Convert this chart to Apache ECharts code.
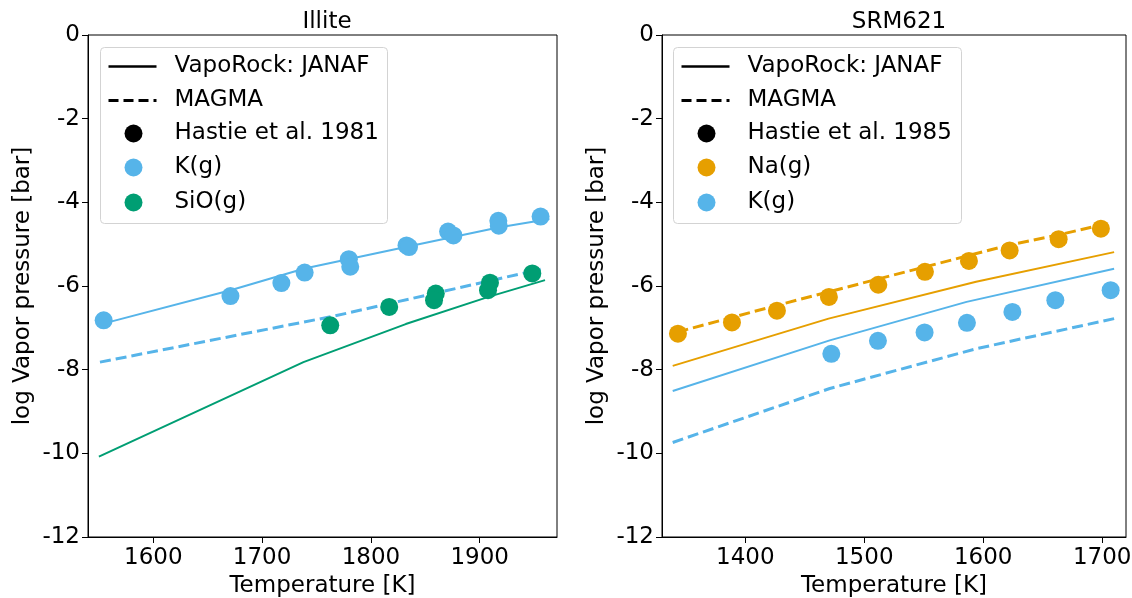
<!DOCTYPE html>
<html>
<head>
<meta charset="utf-8">
<script src="https://cdn.jsdelivr.net/npm/echarts@6/dist/echarts.min.js"></script>
<style>
  html, body { margin: 0; padding: 0; background: #fff; }
  #chart { width: 1132px; height: 598px; }
</style>
</head>
<body>
<div id="chart"></div>
<script>
// ---- Illite (left panel) ----
var illiteKObsT = [1554.4, 1670.9, 1717.7, 1739.1, 1779.7, 1781.0, 1832.7, 1835.0, 1870.9, 1875.8, 1917.1, 1917.5, 1955.9];
var illiteKObsP = [-6.82, -6.24, -5.93, -5.68, -5.36, -5.54, -5.03, -5.07, -4.70, -4.79, -4.44, -4.56, -4.34];
var illiteSiOObsT = [1762.6, 1816.8, 1859.6, 1858.0, 1909.4, 1907.6, 1948.3];
var illiteSiOObsP = [-6.94, -6.50, -6.18, -6.34, -5.92, -6.10, -5.70];
var illiteKJanafT = [1554, 1671, 1739, 1833, 1917, 1964];
var illiteKJanafP = [-6.90, -6.10, -5.58, -5.06, -4.60, -4.40];
var illiteKMagmaT = [1551, 1766, 1956];
var illiteKMagmaP = [-7.82, -6.72, -5.60];
var illiteSiOJanafT = [1550, 1738, 1832, 1908, 1960];
var illiteSiOJanafP = [-10.08, -7.82, -6.91, -6.26, -5.86];

// ---- SRM621 (right panel) ----
var srmNaObsT = [1343.4, 1388.8, 1426.6, 1470.3, 1511.8, 1551.0, 1588.0, 1622.2, 1663.4, 1698.9];
var srmNaObsP = [-7.14, -6.87, -6.59, -6.26, -5.97, -5.66, -5.40, -5.15, -4.88, -4.63];
var srmKObsT = [1472.3, 1511.5, 1550.7, 1586.3, 1624.5, 1660.6, 1707.1];
var srmKObsP = [-7.62, -7.31, -7.11, -6.88, -6.62, -6.34, -6.10];
var srmNaJanafT = [1339, 1470, 1594, 1710];
var srmNaJanafP = [-7.91, -6.78, -5.90, -5.19];
var srmNaMagmaT = [1343, 1427, 1512, 1622, 1663, 1708];
var srmNaMagmaP = [-7.10, -6.46, -5.83, -5.02, -4.78, -4.48];
var srmKJanafT = [1339, 1471, 1586, 1710];
var srmKJanafP = [-8.51, -7.30, -6.38, -5.59];
var srmKMagmaT = [1339, 1471, 1594, 1710];
var srmKMagmaP = [-9.74, -8.45, -7.50, -6.78];

// ticks
var illiteTicks = [1600, 1700, 1800, 1900];
var srmTicks = [1400, 1500, 1600, 1700];

var BLUE = "#56B4E9", ORANGE = "#E69F00", GREEN = "#009E73";
var FONT = "DejaVu Sans";
var FS = 23;

function zip(xs, ys) {
  return xs.map(function (x, i) { return [x, ys[i]]; });
}

function lineSeries(idx, t, p, color, dashed) {
  return {
    type: "line",
    xAxisIndex: idx, yAxisIndex: idx,
    data: zip(t, p),
    symbol: "none",
    silent: true,
    z: 2,
    lineStyle: dashed ? { color: color, width: 3, type: [11, 5] } : { color: color, width: 2 }
  };
}

function scatterSeries(idx, t, p, color) {
  return {
    type: "scatter",
    xAxisIndex: idx, yAxisIndex: idx,
    data: zip(t, p),
    symbolSize: 18,
    z: 3,
    itemStyle: { color: color, opacity: 1 }
  };
}

function xAxis(idx, min, max, ticks) {
  return {
    type: "value", gridIndex: idx, min: min, max: max,
    name: "Temperature [K]", nameLocation: "middle", nameGap: 37,
    nameTextStyle: { fontFamily: FONT, fontSize: FS, color: "#000" },
    axisLine: { show: true, onZero: false, lineStyle: { color: "#000", width: 1 } },
    axisTick: { show: true, length: 6, customValues: ticks, lineStyle: { color: "#000" } },
    axisLabel: { customValues: ticks, fontFamily: FONT, fontSize: FS, color: "#000", margin: 10,
      formatter: function (v) { return String(v); } },
    splitLine: { show: false }
  };
}

function yAxis(idx) {
  return {
    type: "value", gridIndex: idx, min: -12, max: 0, interval: 2,
    name: "log Vapor pressure [bar]", nameLocation: "middle", nameGap: 53,
    nameTextStyle: { fontFamily: FONT, fontSize: FS, color: "#000" },
    axisLine: { show: true, onZero: false, lineStyle: { color: "#000", width: 1 } },
    axisTick: { show: true, length: 6, lineStyle: { color: "#000" } },
    axisLabel: { fontFamily: FONT, fontSize: FS, color: "#000", margin: 8 },
    splitLine: { show: false }
  };
}

// legend drawn with graphic elements
function legend(x, y, w, h, labels, markerColors) {
  var kids = [{
    type: "rect",
    shape: { x: 0, y: 0, width: w, height: h, r: 4 },
    style: { fill: "rgba(255,255,255,0.85)", stroke: "#d3d3d3", lineWidth: 1 }
  }];
  var rowY = [19, 53, 86, 120, 155];
  kids.push({ type: "line", shape: { x1: 8, y1: rowY[0], x2: 56, y2: rowY[0] }, style: { stroke: "#000", lineWidth: 2.5 } });
  kids.push({ type: "line", shape: { x1: 8, y1: rowY[1], x2: 56, y2: rowY[1] }, style: { stroke: "#000", lineWidth: 3, lineDash: [10, 5] } });
  var dotColors = ["#000"].concat(markerColors);
  for (var k = 0; k < 3; k++) {
    kids.push({ type: "circle", shape: { cx: 33, cy: rowY[k + 2], r: 9 }, style: { fill: dotColors[k] } });
  }
  labels.forEach(function (lab, i) {
    kids.push({
      type: "text", x: 74, y: rowY[i],
      style: { text: lab, font: FS + "px '" + FONT + "'", fill: "#000", textVerticalAlign: "middle" }
    });
  });
  return { type: "group", left: x, top: y, z: 100, children: kids };
}

var chart = echarts.init(document.getElementById("chart"));
var option = {
  backgroundColor: "#fff",
  animation: false,
  title: [
    { text: "Illite", left: 322, top: 6, textAlign: "center",
      textStyle: { fontFamily: FONT, fontSize: FS, fontWeight: "normal", color: "#000" } },
    { text: "SRM621", left: 894, top: 6, textAlign: "center",
      textStyle: { fontFamily: FONT, fontSize: FS, fontWeight: "normal", color: "#000" } }
  ],
  grid: [
    { left: 88, right: 575, top: 35, bottom: 61, outerBoundsMode: "none", containLabel: false,
      show: true, borderColor: "#000", borderWidth: 1, backgroundColor: "transparent" },
    { left: 662, right: 6, top: 35, bottom: 61, outerBoundsMode: "none", containLabel: false,
      show: true, borderColor: "#000", borderWidth: 1, backgroundColor: "transparent" }
  ],
  xAxis: [xAxis(0, 1540, 1971, illiteTicks), xAxis(1, 1330, 1720, srmTicks)],
  yAxis: [yAxis(0), yAxis(1)],
  series: [
    lineSeries(0, illiteKJanafT, illiteKJanafP, BLUE, false),
    lineSeries(0, illiteKMagmaT, illiteKMagmaP, BLUE, true),
    lineSeries(0, illiteSiOJanafT, illiteSiOJanafP, GREEN, false),
    scatterSeries(0, illiteKObsT, illiteKObsP, BLUE),
    scatterSeries(0, illiteSiOObsT, illiteSiOObsP, GREEN),
    lineSeries(1, srmNaJanafT, srmNaJanafP, ORANGE, false),
    lineSeries(1, srmNaMagmaT, srmNaMagmaP, ORANGE, true),
    lineSeries(1, srmKJanafT, srmKJanafP, BLUE, false),
    lineSeries(1, srmKMagmaT, srmKMagmaP, BLUE, true),
    scatterSeries(1, srmNaObsT, srmNaObsP, ORANGE),
    scatterSeries(1, srmKObsT, srmKObsP, BLUE)
  ],
  graphic: [
    legend(100, 47, 287, 176, ["VapoRock: JANAF", "MAGMA", "Hastie et al. 1981", "K(g)", "SiO(g)"], [BLUE, GREEN]),
    legend(673, 47, 288, 176, ["VapoRock: JANAF", "MAGMA", "Hastie et al. 1985", "Na(g)", "K(g)"], [ORANGE, BLUE])
  ]
};
chart.setOption(option);
</script>
</body>
</html>
